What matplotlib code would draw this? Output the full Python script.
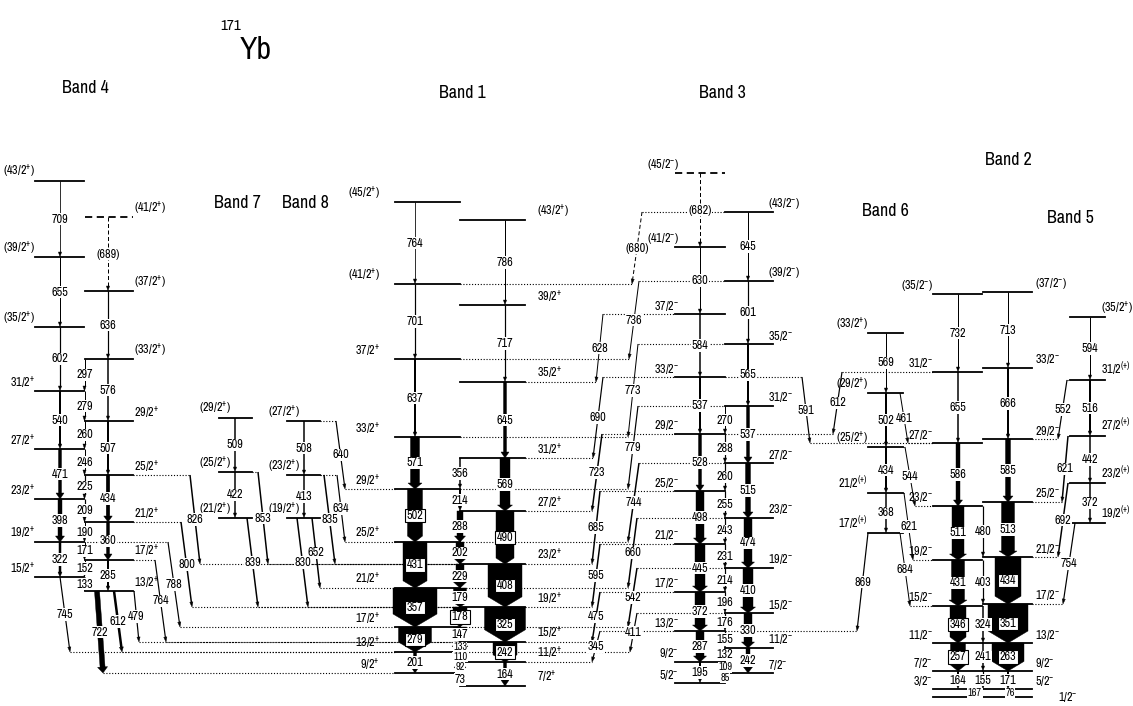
import re
import matplotlib
matplotlib.use("Agg")
import matplotlib.pyplot as plt
from matplotlib import font_manager
from matplotlib.patches import Polygon
import numpy as np

# pick a narrow face if one is installed
narrow = None
for f in font_manager.fontManager.ttflist:
    if f.style != 'normal' or f.weight not in (400, 'normal', 'regular'):
        continue
    if 'Narrow' in f.name or 'Condensed' in f.name or f.stretch in ('condensed', 'semi-condensed', 'extra-condensed'):
        if narrow is None or 'Narrow' in f.name:
            narrow = f
if narrow is not None:
    FAM, STRETCH, SHRINK = narrow.name, narrow.stretch, 1.0
else:
    FAM, STRETCH, SHRINK = 'DejaVu Sans', 'normal', 0.78
plt.rcParams['font.family'] = [FAM, 'DejaVu Sans']
plt.rcParams['font.stretch'] = STRETCH
plt.rcParams['mathtext.fontset'] = 'custom'
plt.rcParams['mathtext.rm'] = FAM
plt.rcParams['mathtext.it'] = FAM

# level spins, energies (keV) and in-band gammas, each column bottom -> top
b4a_spin = ['15/2+', '19/2+', '23/2+', '27/2+', '31/2+', '(35/2+)', '(39/2+)', '(43/2+)']
b4a_E = [1200, 1550, 1980, 2480, 3060, 3700, 4400, 5160]
b4a_gam = ['322', '398', '471', '540', '602', '655', '709']
b4a_I = [2.5, 4, 3, 2, 1.2, 1, 0.8]

b4b_spin = ['13/2+', '17/2+', '21/2+', '25/2+', '29/2+', '(33/2+)', '(37/2+)', '(41/2+)']
b4b_E = [1060, 1370, 1750, 2220, 2760, 3380, 4060, 4800]
b4b_gam = ['285', '360', '434', '507', '576', '636', '(689)']
b4b_I = [2, 3, 3.5, 2, 1.5, 1.2, 1]

b7_spin = ['(21/2+)', '(25/2+)', '(29/2+)']
b7_E = [1790, 2250, 2790]
b7_gam = ['422', '509']
b7_I = [1.5, 1.5]

b8_spin = ['(19/2+)', '(23/2+)', '(27/2+)']
b8_E = [1790, 2220, 2760]
b8_gam = ['413', '508']
b8_I = [1.5, 1.5]

b1a_spin = ['9/2+', '13/2+', '17/2+', '21/2+', '25/2+', '29/2+', '33/2+', '37/2+', '(41/2+)', '(45/2+)']
b1a_E = [240, 450, 700, 1090, 1550, 2080, 2600, 3380, 4130, 4950]
b1a_gam = ['201', '279', '357', '431', '502', '571', '637', '701', '764']
b1a_I = [3, 33, 44, 24, 15, 9, 2, 1.2, 0.8]

b1b_spin = ['7/2+', '11/2+', '15/2+', '19/2+', '23/2+', '27/2+', '31/2+', '35/2+', '39/2+', '(43/2+)']
b1b_E = [110, 350, 550, 900, 1330, 1860, 2390, 3150, 3920, 4770]
b1b_gam = ['164', '242', '325', '408', '490', '569', '645', '717', '786']
b1b_I = [3, 24, 41, 34, 18, 10, 3, 1.2, 1]

b3a_spin = ['5/2-', '9/2-', '13/2-', '17/2-', '21/2-', '25/2-', '29/2-', '33/2-', '37/2-', '(41/2-)', '(45/2-)']
b3a_E = [140, 350, 660, 1050, 1530, 2060, 2630, 3200, 3830, 4500, 5240]
b3a_gam = ['195', '287', '372', '445', '498', '528', '537', '584', '630', '(682)']
b3a_I = [2, 8, 10, 10, 8, 3, 2, 1.5, 1, 1]

b3b_spin = ['7/2-', '11/2-', '15/2-', '19/2-', '23/2-', '27/2-', '31/2-', '35/2-', '(39/2-)', '(43/2-)']
b3b_E = [240, 490, 840, 1290, 1790, 2340, 2910, 3530, 4160, 4850]
b3b_gam = ['242', '330', '410', '474', '515', '537', '565', '601', '645']
b3b_I = [4, 8, 10, 8, 5, 3, 2, 1.2, 1]

b6_spin = ['17/2(+)', '21/2(+)', '(25/2+)', '(29/2+)', '(33/2+)']
b6_E = [1640, 2040, 2500, 3040, 3640]
b6_gam = ['368', '434', '502', '569']
b6_I = [1.5, 2, 2, 1]

b2a_spin = ['3/2-', '7/2-', '11/2-', '15/2-', '19/2-', '23/2-', '27/2-', '31/2-', '(35/2-)']
b2a_E = [80, 260, 540, 910, 1370, 1910, 2540, 3250, 4030]
b2a_gam = ['164', '257', '346', '431', '511', '586', '655', '732']
b2a_I = [2, 15, 16, 13, 12, 4, 1.5, 1]

b2b_spin = ['5/2-', '9/2-', '13/2-', '17/2-', '21/2-', '25/2-', '29/2-', '33/2-', '(37/2-)']
b2b_E = [80, 260, 540, 930, 1400, 1950, 2580, 3290, 4050]
b2b_gam = ['171', '263', '351', '434', '513', '585', '666', '713']
b2b_I = [2, 32, 40, 26, 13, 5, 2, 1]

b5_spin = ['19/2(+)', '23/2(+)', '27/2(+)', '31/2(+)', '(35/2+)']
b5_E = [1740, 2140, 2610, 3170, 3800]
b5_gam = ['372', '442', '516', '594']
b5_I = [1.5, 1.5, 2, 1]

gs_spin = ['1/2-']
gs_E = [0]

# signature-partner (dI=1) cascades, bottom -> top
b4_m1 = ['133', '152', '171', '190', '209', '225', '246', '260', '279', '297']
b4_m1_I = [1, 1, 1, 1, 1.2, 1.2, 1, 1, 1, 1]
b1_m1 = ['73', '92', '110', '133', '147', '178', '179', '229', '202', '288', '214', '356']
b1_m1_I = [6, 7, 9, 11, 13, 14, 13, 8, 8, 6, 2, 1.5]
b3_m1 = ['85', '109', '132', '155', '176', '196', '214', '231', '243', '255', '260', '288', '270']
b3_m1_I = [1, 1, 1.2, 1.2, 1.2, 1.2, 1.2, 1.2, 1.2, 1.2, 1.2, 1.2, 1]
b2_m1 = ['155', '241', '324', '403', '480']
b2_m1_I = [1.2, 1.5, 1.5, 1.2, 1.2]
gs_feed = ['167', '76']

# inter-band transitions: from band/spin, to band/spin, energy, intensity
links = [
    ('4b', '25/2', '1b', '23/2', '826', 1.5),
    ('4b', '21/2', '1b', '19/2', '800', 1.5),
    ('4a', '19/2', '1a', '17/2', '788', 1.2),
    ('4b', '17/2', '1b', '15/2', '764', 1.2),
    ('4b', '13/2', '1b', '15/2', '479', 1.2),
    ('4a', '15/2', '1a', '13/2', '745', 1.2),
    ('4b', '13/2', '1a', '9/2', '722', 5),
    ('4b', '13/2', '1a', '13/2', '612', 2.5),
    ('7', '25/2', '1b', '23/2', '853', 1.5),
    ('7', '21/2', '1b', '19/2', '839', 1.5),
    ('8', '27/2', '1a', '29/2', '640', 1.2),
    ('8', '23/2', '1a', '25/2', '634', 1.2),
    ('8', '23/2', '1b', '23/2', '835', 1.5),
    ('8', '19/2', '1a', '21/2', '652', 1.5),
    ('8', '19/2', '1b', '19/2', '830', 1.5),
    ('3b', '43/2', '1a', '41/2', '(680)', 1),
    ('3b', '39/2', '1a', '37/2', '736', 1),
    ('3a', '37/2', '1b', '35/2', '628', 1),
    ('3b', '35/2', '1a', '33/2', '773', 1),
    ('3a', '33/2', '1b', '31/2', '690', 1.2),
    ('3b', '31/2', '1a', '29/2', '779', 1.2),
    ('3a', '29/2', '1b', '27/2', '723', 1.5),
    ('3b', '27/2', '1a', '25/2', '744', 1.5),
    ('3a', '25/2', '1b', '23/2', '685', 1.5),
    ('3b', '23/2', '1a', '21/2', '660', 1.5),
    ('3a', '21/2', '1b', '19/2', '595', 1.5),
    ('3b', '19/2', '1a', '17/2', '542', 1.5),
    ('3a', '17/2', '1b', '15/2', '475', 1.5),
    ('3b', '15/2', '1a', '13/2', '411', 1.2),
    ('3a', '13/2', '1b', '11/2', '345', 1.2),
    ('3a', '33/2', '2a', '27/2', '591', 1.2),
    ('2a', '31/2', '3a', '29/2', '612', 1.2),
    ('6', '17/2', '3a', '13/2', '869', 1.2),
    ('6', '29/2', '2a', '27/2', '461', 1),
    ('6', '25/2', '2a', '23/2', '544', 1),
    ('6', '21/2', '2a', '19/2', '621', 1),
    ('6', '17/2', '2a', '15/2', '684', 1),
    ('5', '31/2', '2b', '29/2', '552', 1.2),
    ('5', '27/2', '2b', '25/2', '621', 1.5),
    ('5', '23/2', '2b', '21/2', '692', 1.5),
    ('5', '19/2', '2b', '17/2', '754', 1.2),
]

# ---------------- layout ----------------
SC = 10.0   # keV per page pixel
Y0 = 697    # page row of the ground state


def ypx(row):
    return (Y0 - row) * SC


# x_left, x_right, x_arrow, label side, label gap
cols = {
    '4a': (35, 84, 60, 'l', 0),
    '4b': (85, 133, 108, 'r', 1),
    '7': (219, 252, 235, 'l', -12),
    '8': (287, 320, 304, 'l', -13),
    '1a': (395, 460, 415, 'l', 15),
    '1b': (460, 525, 505, 'r', 12),
    '3a': (675, 725, 700, 'l', -4),
    '3b': (725, 773, 748, 'r', -5),
    '6': (868, 903, 886, 'l', 0),
    '2a': (933, 982, 958, 'l', 0),
    '2b': (983, 1032, 1008, 'r', 3),
    '5': (1070, 1105, 1090, 'r', -4),
    'g': (933, 1032, 1000, 'r', 26),
}
m1_x = {'4': 84.5, '1': 460, '3': 725, '2': 983}
link_x = [(190, 200), (181, 192), (168, 180), (155, 166), (134, 139), (60, 70), (97, 103), (114, 122),
          (258, 268), (247, 258), (336, 345), (337, 345), (324, 335), (312, 320), (297, 308),
          (642, 632), (639, 629), (603, 596), (638, 628), (603, 593), (638, 628), (602, 592), (639, 628),
          (600, 592), (637, 628), (600, 592), (637, 628), (600, 592), (637, 630), (600, 592),
          (802, 810), (842, 833), (868, 857), (900, 908), (905, 915), (904, 913), (900, 910),
          (1067, 1058), (1068, 1062), (1068, 1058), (1075, 1063)]

bands = [('4a', b4a_spin, b4a_E, b4a_gam, b4a_I), ('4b', b4b_spin, b4b_E, b4b_gam, b4b_I),
         ('7', b7_spin, b7_E, b7_gam, b7_I), ('8', b8_spin, b8_E, b8_gam, b8_I),
         ('1a', b1a_spin, b1a_E, b1a_gam, b1a_I), ('1b', b1b_spin, b1b_E, b1b_gam, b1b_I),
         ('3a', b3a_spin, b3a_E, b3a_gam, b3a_I), ('3b', b3b_spin, b3b_E, b3b_gam, b3b_I),
         ('6', b6_spin, b6_E, b6_gam, b6_I), ('2a', b2a_spin, b2a_E, b2a_gam, b2a_I),
         ('2b', b2b_spin, b2b_E, b2b_gam, b2b_I), ('5', b5_spin, b5_E, b5_gam, b5_I),
         ('g', gs_spin, gs_E, [], [])]


def key(s):
    return re.sub(r'[()+\-]', '', s)


def spin_tex(s):
    s = s.replace('(+)', '$^{(+)}$')
    return re.sub(r'/2([+-])', lambda m: '/2$^{' + m.group(1) + '}$', s)


levels = {}
for c, sp, E, gam, I in bands:
    for s, e in zip(sp, E):
        levels[(c, key(s))] = e

fig = plt.figure(figsize=(11.33, 7.06), dpi=100)
ax = fig.add_axes([0, 0, 1, 1])
ax.set_xlim(0, 1133)
ax.set_ylim(ypx(706), ypx(0))
ax.axis('off')

GFS = 9.5 * SHRINK
LFS = 9.5 * SHRINK


def arrow(x0, e0, x1, e1, w, dashed=False):
    p0 = np.array([x0, e0 / SC])
    p1 = np.array([x1, e1 / SC])
    d = p1 - p0
    u = d / np.hypot(*d)
    n = np.array([-u[1], u[0]])
    if w < 3:
        hl, hh = 5.0, max(w + 1.5, 3.2) / 2
        base = p1 - u * hl
        ax.plot([p0[0], base[0]], [p0[1] * SC, base[1] * SC], color='k',
                lw=w * 0.72, ls=(0, (4, 2.5)) if dashed else '-', solid_capstyle='butt', zorder=3)
        pts = [p1, base + n * hh, base - n * hh]
    else:
        hw = w / 2
        hl = min(max(0.3 * w, 6), 13)
        hh = hw if w >= 14 else hw + 2.5
        base = p1 - u * hl
        pts = [p0 + n * hw, base + n * hw, base + n * hh, p1, base - n * hh, base - n * hw, p0 - n * hw]
    pts = [(p[0], p[1] * SC) for p in pts]
    ax.add_patch(Polygon(pts, closed=True, fc='k', ec='k', lw=0.3, zorder=3))


def glabel(x, e, txt, w, fs=None):
    if w >= 14:
        bb = dict(boxstyle='square,pad=0.1', fc='white', ec='k', lw=0.8)
    else:
        bb = dict(boxstyle='square,pad=0.04', fc='white', ec='none')
    ax.text(x, e, txt, fontsize=fs or GFS, ha='center', va='center', bbox=bb, zorder=4)


def dotted(xa, xb, e):
    ax.plot([xa, xb], [e, e], color='k', lw=0.8, ls=(0, (1, 1.6)), zorder=1)


# levels and in-band E2 cascades
for c, sp, E, gam, I in bands:
    xl, xr, xa, side, gap = cols[c]
    for i, (s, e) in enumerate(zip(sp, E)):
        dashed = i > 0 and gam[i - 1].startswith('(')
        ax.plot([xl, xr], [e, e], color='k', lw=1.3, ls=(0, (4, 2.5)) if dashed else '-', zorder=2)
        if c == 'g':
            # ground state spin sits level with its line, off to the right
            ax.text(xr + gap, e, spin_tex(s), fontsize=LFS, ha='left', va='center', zorder=4)
        elif side == 'l':
            ax.text(xl - gap, e + 1.5 * SC, spin_tex(s), fontsize=LFS, ha='right', va='bottom', zorder=4)
        else:
            ax.text(xr + gap, e + 1.5 * SC, spin_tex(s), fontsize=LFS, ha='left', va='bottom', zorder=4)
    for i, (g, w) in enumerate(zip(gam, I)):
        arrow(xa, E[i + 1], xa, E[i], w, dashed=g.startswith('('))
        glabel(xa, (E[i] + E[i + 1]) / 2, g, w)


def zigzag(lo, hi, n):
    out = []
    for i in range(n):
        out.append(lo[i // 2] if i % 2 == 0 else hi[i // 2])
    return out


m1_sets = [('4', zigzag(b4b_E, b4a_E, len(b4_m1) + 1), b4_m1, b4_m1_I),
           ('1', zigzag(b1b_E, b1a_E, len(b1_m1) + 1), b1_m1, b1_m1_I),
           ('3', zigzag(b3a_E, b3b_E, len(b3_m1) + 1), b3_m1, b3_m1_I)]
for b, chain, gam, I in m1_sets:
    x = m1_x[b]
    for i, (g, w) in enumerate(zip(gam, I)):
        arrow(x, chain[i + 1], x, chain[i], w)
        small = GFS * 0.85 if chain[i + 1] - chain[i] < 130 else None
        glabel(x, (chain[i] + chain[i + 1]) / 2, g, w, small)

# band 2 signature crossing transitions
for i, (g, w) in enumerate(zip(b2_m1, b2_m1_I)):
    arrow(m1_x['2'], b2a_E[i + 1], m1_x['2'], b2b_E[i], w)
    glabel(m1_x['2'], (b2a_E[i + 1] + b2b_E[i]) / 2, g, w)
for g, (xg, e) in zip(gs_feed, [(975, b2a_E[0]), (1010, b2b_E[0])]):
    glabel(xg, (e + gs_E[0]) / 2, g, 1, GFS * 0.85)

# inter-band transitions with dotted level extensions
for (c0, s0, c1, s1, g, w), (x0, x1) in zip(links, link_x):
    e0, e1 = levels[(c0, s0)], levels[(c1, s1)]
    for c, x, e in ((c0, x0, e0), (c1, x1, e1)):
        xl, xr = cols[c][:2]
        if x > xr:
            dotted(xr, x, e)
        elif x < xl:
            dotted(x, xl, e)
    arrow(x0, e0, x1, e1, w, dashed=g.startswith('('))
    glabel((x0 + x1) / 2, (e0 + e1) / 2, g, w)

# titles
ax.text(241, ypx(19), '171', fontsize=12 * SHRINK, ha='right', va='top')
ax.text(240, ypx(59), 'Yb', fontsize=25, ha='left', va='baseline')
titles = {'Band 4': (85, 88), 'Band 1': (462, 93), 'Band 3': (722, 93), 'Band 7': (237, 203),
          'Band 8': (305, 203), 'Band 6': (885, 211), 'Band 2': (1008, 160), 'Band 5': (1070, 218)}
for t, (x, y) in titles.items():
    ax.text(x, ypx(y), t, fontsize=14 * SHRINK, ha='center', va='center')

fig.savefig('out.png', dpi=100)
